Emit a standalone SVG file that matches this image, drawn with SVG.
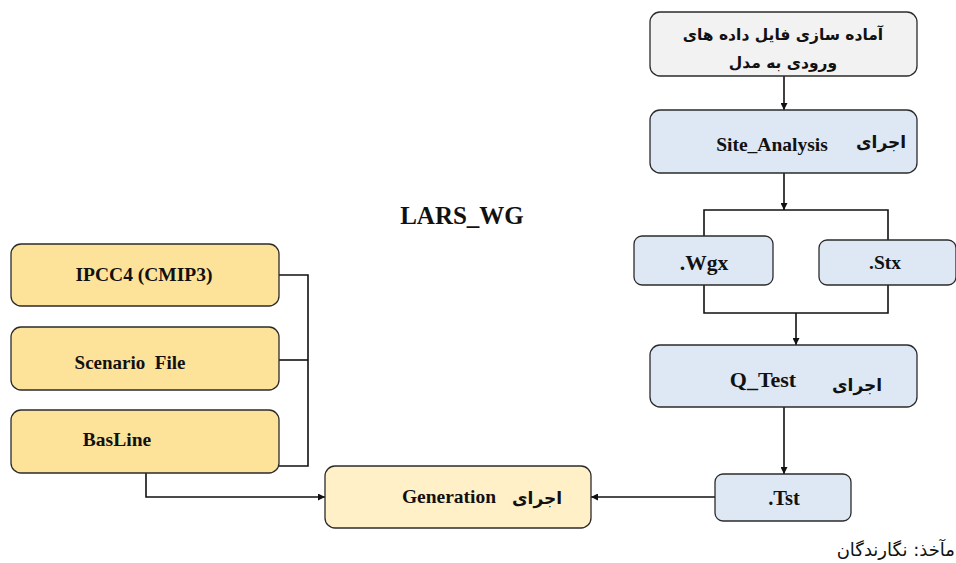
<svg xmlns="http://www.w3.org/2000/svg" width="956" height="563" viewBox="0 0 956 563">
<style>
.box{stroke:#2b2b2b;stroke-width:1.3}
.blue{fill:#dde8f4}
.gray{fill:#f2f2f2}
.yel{fill:#fde39a}
.lyel{fill:#fff0c8}
.en{font-family:"Liberation Serif",serif;font-weight:bold;fill:#111}
.fa{font-family:"DejaVu Sans",sans-serif;font-weight:bold;fill:#111}
.ln{fill:none;stroke:#111;stroke-width:1.6}
</style>
<defs>
<marker id="ah" viewBox="0 0 10 10" refX="10" refY="5" markerWidth="7" markerHeight="7" orient="auto" markerUnits="userSpaceOnUse">
<path d="M0,0 L10,5 L0,10 z" fill="#111"/>
</marker>
</defs>
<g id="connectors">
<path class="ln" d="M784,76 V110" marker-end="url(#ah)"/>
<path class="ln" d="M784,173 V210" marker-end="url(#ah)"/>
<path class="ln" d="M704,236 V210 H888 V240"/>
<path class="ln" d="M704,285 V313 H888 V285"/>
<path class="ln" d="M796,313 V345" marker-end="url(#ah)"/>
<path class="ln" d="M784,407 V474" marker-end="url(#ah)"/>
<path class="ln" d="M715,497 H591" marker-end="url(#ah)"/>
<path class="ln" d="M279,275 H308 V466 H279"/>
<path class="ln" d="M279,360 H308"/>
<path class="ln" d="M146,473 V497 H325" marker-end="url(#ah)"/>
</g>
<g id="n-prep">
<rect class="box gray" x="650" y="12" width="267" height="64" rx="10"/>
<text class="fa" x="783" y="40" text-anchor="middle" font-size="15.5">آماده سازی فایل داده های</text>
<text class="fa" x="783" y="68" text-anchor="middle" font-size="15.5">ورودی به مدل</text>
</g>
<g id="n-site">
<rect class="box blue" x="650" y="110" width="267" height="63" rx="10"/>
<text class="en" x="772" y="151" text-anchor="middle" font-size="19.5">Site_Analysis</text>
<text class="fa" x="881" y="148" text-anchor="middle" font-size="17">اجرای</text>
</g>
<g id="n-wgx">
<rect class="box blue" x="634" y="236" width="139" height="49" rx="8"/>
<text class="en" x="704" y="270" text-anchor="middle" font-size="21.5">.Wgx</text>
</g>
<g id="n-stx">
<rect class="box blue" x="819" y="240" width="137" height="45" rx="8"/>
<text class="en" x="885" y="269" text-anchor="middle" font-size="19.5">.Stx</text>
</g>
<g id="n-qtest">
<rect class="box blue" x="650" y="345" width="267" height="62" rx="10"/>
<text class="en" x="763" y="387" text-anchor="middle" font-size="22">Q_Test</text>
<text class="fa" x="857" y="391" text-anchor="middle" font-size="17">اجرای</text>
</g>
<g id="n-tst">
<rect class="box blue" x="715" y="474" width="136" height="47" rx="8"/>
<text class="en" x="784" y="505" text-anchor="middle" font-size="20.5">.Tst</text>
</g>
<g id="n-gen">
<rect class="box lyel" x="325" y="466" width="266" height="62" rx="10"/>
<text class="en" x="449" y="503" text-anchor="middle" font-size="19.5">Generation</text>
<text class="fa" x="537" y="504" text-anchor="middle" font-size="17">اجرای</text>
</g>
<g id="n-ipcc">
<rect class="box yel" x="11" y="244" width="268" height="62" rx="10"/>
<text class="en" x="144" y="281" text-anchor="middle" font-size="19.5">IPCC4 (CMIP3)</text>
</g>
<g id="n-scen">
<rect class="box yel" x="11" y="327" width="268" height="63" rx="10"/>
<text class="en" x="130" y="369" text-anchor="middle" font-size="19" xml:space="preserve">Scenario  File</text>
</g>
<g id="n-base">
<rect class="box yel" x="11" y="410" width="268" height="63" rx="10"/>
<text class="en" x="117" y="446" text-anchor="middle" font-size="19.5">BasLine</text>
</g>
<g id="title">
<text class="en" x="462" y="224" text-anchor="middle" font-size="25">LARS_WG</text>
</g>
<g id="caption">
<text x="955" y="556" text-anchor="end" font-family="DejaVu Sans, sans-serif" font-size="18" fill="#111">مآخذ: نگارندگان</text>
</g>
</svg>
